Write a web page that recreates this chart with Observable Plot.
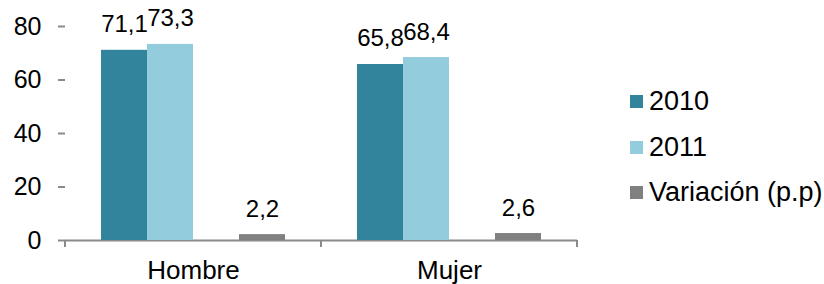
<!DOCTYPE html>
<html>
<head>
<meta charset="utf-8">
<script src="https://cdn.jsdelivr.net/npm/d3@7"></script>
<script src="https://cdn.jsdelivr.net/npm/@observablehq/plot@0.6"></script>
<style>
  html, body { margin: 0; padding: 0; background: #fff; }
  #wrap { position: relative; width: 824px; height: 284px; font-family: 'Liberation Sans', Arial, sans-serif; }
  #legend { position: absolute; left: 630px; top: 79px; }
  .row { display: flex; align-items: center; height: 45.5px; font-size: 27px; color: #000; white-space: nowrap; }
  .sw { width: 13px; height: 13px; margin-right: 6px; }
</style>
</head>
<body>
<div id="wrap"><div id="legend"></div></div>
<script>
const groups = ["Hombre", "Mujer"];
const series = ["2010", "2011", "Variación (p.p)"];
const slots = ["2010", "2011", "gap", "Variación (p.p)"];
const values2010 = [71.1, 65.8];
const values2011 = [73.3, 68.4];
const variacion = [2.2, 2.6];
const yTicks = [0, 20, 40, 60, 80];
const colors = ["#31849B", "#93CDDD", "#808080"];
const axisGray = "#8a8a8a";

const seriesValues = [values2010, values2011, variacion];
const rows = [];
groups.forEach((g, i) => series.forEach((s, j) => rows.push({group: g, series: s, value: seriesValues[j][i]})));
const fmt = v => v.toFixed(1).replace(".", ",");

const chart = Plot.plot({
  width: 824,
  height: 284,
  marginLeft: 64,
  marginRight: 247,
  marginTop: 26,
  marginBottom: 44,
  style: {fontFamily: "'Liberation Sans', Arial, sans-serif", fontSize: "24px", color: "#000", background: "transparent"},
  fx: {domain: groups, padding: 0, label: null},
  x: {domain: slots, paddingInner: 0, paddingOuter: 0.758, axis: null},
  y: {domain: [0, 80], label: null},
  color: {domain: series, range: colors},
  marks: [
    Plot.ruleY([0], {stroke: axisGray, strokeWidth: 2}),
    Plot.barY(rows, {fx: "group", x: "series", y: "value", fill: "series"}),
    Plot.text(rows, {fx: "group", x: "series", y: "value", text: d => fmt(d.value), lineAnchor: "bottom", dy: -18, fontSize: 24, fill: "#000"}),
    Plot.axisY({ticks: yTicks, tickSize: 7, tickPadding: 17, line: true, stroke: axisGray, strokeWidth: 2, fill: "#000", fontSize: 25, label: null, tickFormat: d => String(d)}),
    Plot.axisFx({anchor: "bottom", tickSize: 0, tickPadding: 20, fontSize: 26, label: null, fill: "#000"})
  ]
});

document.getElementById("wrap").prepend(chart);

// boundary ticks below the category axis, placed with Plot's own scales
const fxs = chart.scale("fx");
const ys = chart.scale("y");
const y0 = ys.apply(0);
const edges = groups.map(g => fxs.apply(g)).concat([fxs.apply(groups[groups.length - 1]) + fxs.bandwidth]);
d3.select(chart).append("g").selectAll("line").data(edges).join("line")
  .attr("x1", d => d).attr("x2", d => d)
  .attr("y1", y0).attr("y2", y0 + 7)
  .attr("stroke", axisGray).attr("stroke-width", 2);

// legend
const legend = d3.select("#legend");
series.forEach((s, i) => {
  const r = legend.append("div").attr("class", "row");
  r.append("div").attr("class", "sw").style("background", colors[i]);
  r.append("span").text(s);
});
</script>
</body>
</html>
